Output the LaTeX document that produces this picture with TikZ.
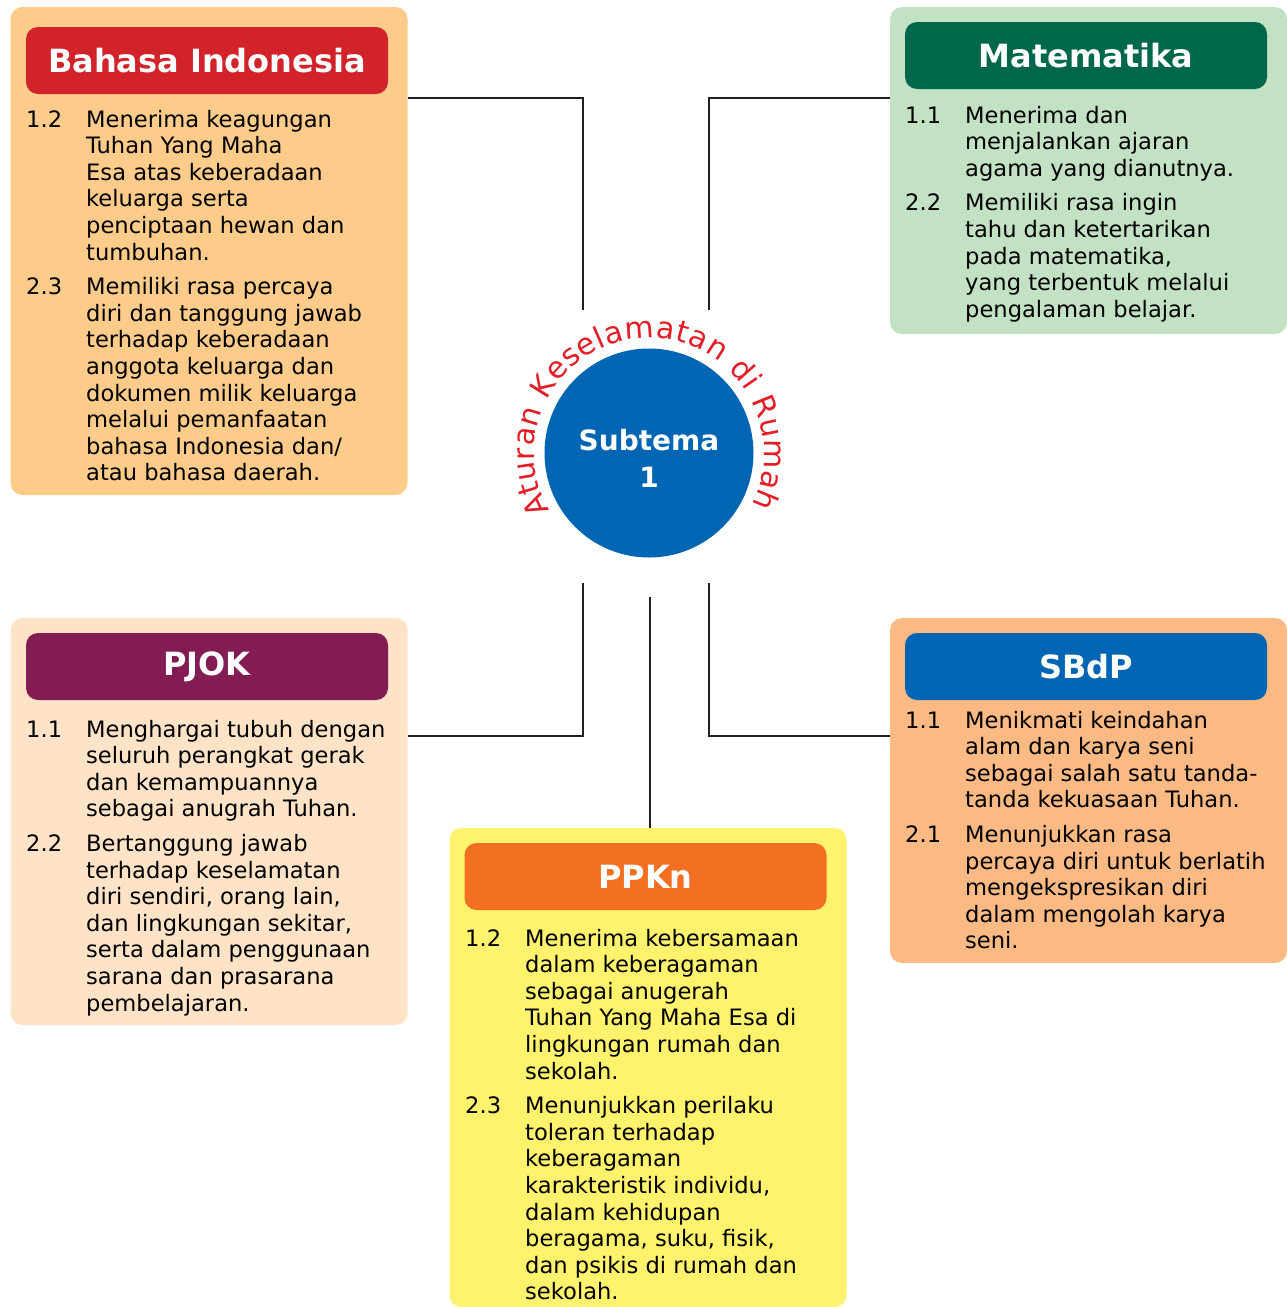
\documentclass[tikz,border=0pt]{standalone}
\usepackage{fontspec}
\setmainfont{DejaVu Sans}
\usetikzlibrary{decorations.text}

\definecolor{biback}{HTML}{FDCB8A}
\definecolor{bihead}{HTML}{D2232A}
\definecolor{matback}{HTML}{C3E2C3}
\definecolor{mathead}{HTML}{00674A}
\definecolor{pjback}{HTML}{FEE3C7}
\definecolor{pjhead}{HTML}{841C54}
\definecolor{sbback}{HTML}{FBBA83}
\definecolor{sbhead}{HTML}{0066B3}
\definecolor{ppback}{HTML}{FFF36D}
\definecolor{pphead}{HTML}{F37022}
\definecolor{subblue}{HTML}{0065B2}
\definecolor{arcred}{HTML}{E31E26}
\definecolor{linegray}{HTML}{231F20}

\newcommand{\kd}[1]{\begin{tabular}[t]{@{}p{60pt}@{}l@{}}#1\end{tabular}}

\tikzset{
  panel/.style={rounded corners=12pt, inner sep=0pt, minimum width=397pt},
  header/.style={rounded corners=12pt, inner sep=0pt, minimum width=362pt,
    minimum height=67pt, text=white, font=\fontsize{32}{36}\selectfont\bfseries},
  listtext/.style={inner sep=0pt, anchor=base west, font=\fontsize{22.6}{26.6}\selectfont},
  link/.style={line width=2.6pt, draw=linegray},
}

\begin{document}
\begin{tikzpicture}[x=1pt, y=-1pt]
\useasboundingbox (0, 0) rectangle (1287, 1307);

% panels
\node[panel, fill=biback, minimum height=488pt] (bi-box) at (209, 251) {};
\node[panel, fill=matback, minimum height=327pt] (mat-box) at (1088.5, 170.5) {};
\node[panel, fill=pjback, minimum height=407pt] (pj-box) at (209, 821.5) {};
\node[panel, fill=sbback, minimum height=345pt] (sb-box) at (1088.5, 790.5) {};
\node[panel, fill=ppback, minimum height=479pt] (pp-box) at (648, 1067.5) {};

% headers
\node[header, fill=bihead] (bi-head) at (207, 60.5) {Bahasa Indonesia};
\node[header, fill=mathead] (mat-head) at (1086, 55.5) {Matematika};
\node[header, fill=pjhead] (pj-head) at (207, 666.5) {PJOK};
\node[header, fill=sbhead] (sb-head) at (1086, 666.5) {SBdP};
\node[header, fill=pphead] (pp-head) at (645.5, 876.5) {PPKn};

% lists
\node[listtext] (bi-list) at (26, 127) {\kd{
  1.2 & Menerima keagungan\\ & Tuhan Yang Maha\\ & Esa atas keberadaan\\
  & keluarga serta\\ & penciptaan hewan dan\\ & tumbuhan.\\[8pt]
  2.3 & Memiliki rasa percaya\\ & diri dan tanggung jawab\\ & terhadap keberadaan\\
  & anggota keluarga dan\\ & dokumen milik keluarga\\ & melalui pemanfaatan\\
  & bahasa Indonesia dan/\\ & atau bahasa daerah.}};
\node[listtext] (mat-list) at (905, 123) {\kd{
  1.1 & Menerima dan\\ & menjalankan ajaran\\ & agama yang dianutnya.\\[8pt]
  2.2 & Memiliki rasa ingin\\ & tahu dan ketertarikan\\ & pada matematika,\\
  & yang terbentuk melalui\\ & pengalaman belajar.}};
\node[listtext] (pj-list) at (26, 737) {\kd{
  1.1 & Menghargai tubuh dengan\\ & seluruh perangkat gerak\\ & dan kemampuannya\\
  & sebagai anugrah Tuhan.\\[8pt]
  2.2 & Bertanggung jawab\\ & terhadap keselamatan\\ & diri sendiri, orang lain,\\
  & dan lingkungan sekitar,\\ & serta dalam penggunaan\\ & sarana dan prasarana\\
  & pembelajaran.}};
\node[listtext] (sb-list) at (905, 728) {\kd{
  1.1 & Menikmati keindahan\\ & alam dan karya seni\\ & sebagai salah satu tanda-\\
  & tanda kekuasaan Tuhan.\\[8pt]
  2.1 & Menunjukkan rasa\\ & percaya diri untuk berlatih\\ & mengekspresikan diri\\
  & dalam mengolah karya\\ & seni.}};
\node[listtext] (pp-list) at (465, 946) {\kd{
  1.2 & Menerima kebersamaan\\ & dalam keberagaman\\ & sebagai anugerah\\
  & Tuhan Yang Maha Esa di\\ & lingkungan rumah dan\\ & sekolah.\\[8pt]
  2.3 & Menunjukkan perilaku\\ & toleran terhadap\\ & keberagaman\\
  & karakteristik individu,\\ & dalam kehidupan\\ & beragama, suku, fisik,\\
  & dan psikis di rumah dan\\ & sekolah.}};

% centre
\node[circle, fill=subblue, minimum size=209pt, inner sep=0pt] (sub) at (649, 453) {};
\node[text=white, align=center, font=\fontsize{28}{37}\selectfont\bfseries]
  (sub-label) at (649, 458) {Subtema\\1};
\path[decorate, decoration={text along path, text align={fit to path},
  text={|\fontsize{30}{34}\selectfont\color{arcred}|Aturan Keselamatan di Rumah}}]
  ([shift={(210:115pt)}]sub.center) arc[start angle=210, end angle=-27, radius=115pt];

% connectors
\coordinate (bi-turn) at (583, 98);
\coordinate (bi-end) at (583, 310);
\coordinate (mat-turn) at (709, 98);
\coordinate (mat-end) at (709, 310);
\coordinate (pj-turn) at (583, 736);
\coordinate (pj-end) at (583, 583);
\coordinate (sb-turn) at (709, 736);
\coordinate (sb-end) at (709, 583);
\coordinate (pp-end) at (650, 597);
\draw[link] (bi-box.east |- bi-turn) -- (bi-turn) -- (bi-end);
\draw[link] (mat-box.west |- mat-turn) -- (mat-turn) -- (mat-end);
\draw[link] (pj-box.east |- pj-turn) -- (pj-turn) -- (pj-end);
\draw[link] (sb-box.west |- sb-turn) -- (sb-turn) -- (sb-end);
\draw[link] (pp-box.north -| pp-end) -- (pp-end);
\end{tikzpicture}
\end{document}
